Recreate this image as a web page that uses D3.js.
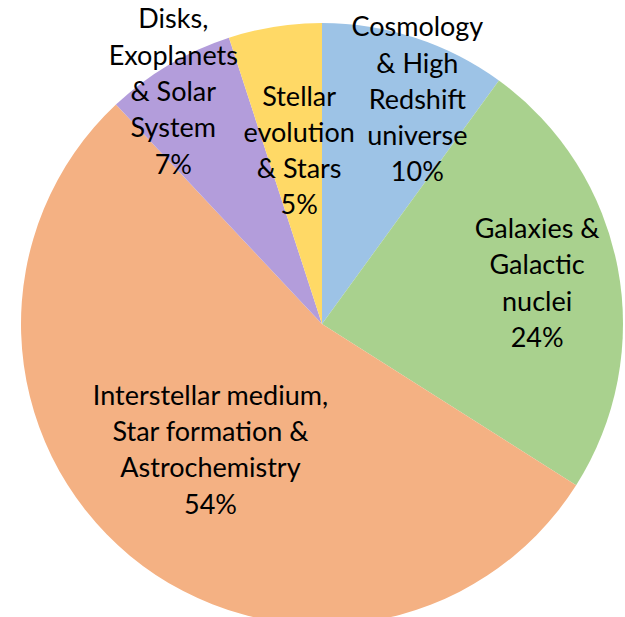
<!DOCTYPE html>
<html>
<head>
<meta charset="utf-8">
<script src="https://cdn.jsdelivr.net/npm/d3@7"></script>
<style>
  body { margin: 0; background: #fff; }
  .lbl { font-family: Lato, "Open Sans", sans-serif; fill: #000; }
</style>
</head>
<body>
<div class="chart"></div>
<script>
// data, clockwise from 12 o'clock
var categories = [
  ["Cosmology", "& High", "Redshift", "universe"],
  ["Galaxies &", "Galactic", "nuclei"],
  ["Interstellar medium,", "Star formation &", "Astrochemistry"],
  ["Disks,", "Exoplanets", "& Solar", "System"],
  ["Stellar", "evolution", "& Stars"]
];
var values = [10, 24, 54, 7, 5];
var colors = ["#9DC3E6", "#A9D18E", "#F4B183", "#B39DDB", "#FFD966"];

// label placement (radius from centre, angle nudge in degrees)
var labelRadius = [244, 219, 168, 276, 175];
var labelNudge = [5, 0, 2, -2, 1.5];

var svgWidth = 625;
var svgHeight = 617;
var cx = 322, cy = 324, radius = 301;
var fontSize = 27;
var lineGap = 36.3;

var svg = d3.select(".chart")
            .append("svg")
            .attr("width", svgWidth)
            .attr("height", svgHeight);

var chartGroup = svg.append("g")
                    .attr("transform", `translate(${cx}, ${cy})`);

var pie = d3.pie().sort(null).value(d => d);
var arcs = pie(values);
var total = d3.sum(values);

var arc = d3.arc().innerRadius(0).outerRadius(radius);

chartGroup.selectAll("path")
          .data(arcs)
          .enter()
          .append("path")
          .attr("d", arc)
          .attr("fill", (d, i) => colors[i]);

arcs.forEach(function (d, i) {
  var a = (d.startAngle + d.endAngle) / 2 + labelNudge[i] * Math.PI / 180;
  var x = labelRadius[i] * Math.sin(a);
  var y = -labelRadius[i] * Math.cos(a);
  var lines = categories[i].concat([Math.round(values[i] / total * 100) + "%"]);
  var y0 = y - (lines.length - 1) * lineGap / 2;
  var t = chartGroup.append("text")
                    .attr("class", "lbl")
                    .attr("text-anchor", "middle")
                    .style("font-size", fontSize + "px");
  lines.forEach(function (s, k) {
    t.append("tspan")
     .attr("x", x)
     .attr("y", y0 + k * lineGap + fontSize * 0.35)
     .text(s);
  });
});
</script>
</body>
</html>
